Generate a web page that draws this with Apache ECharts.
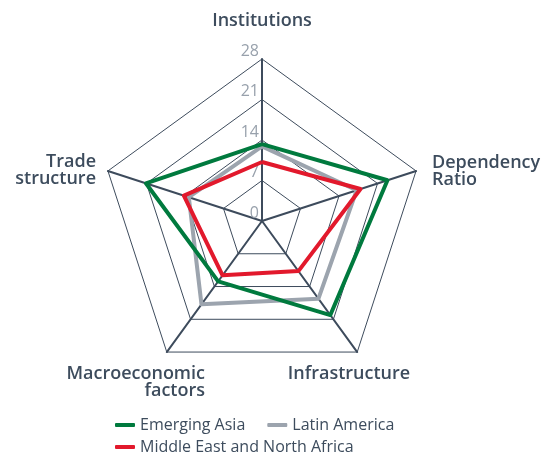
<!DOCTYPE html>
<html>
<head>
<meta charset="utf-8">
<script src="https://cdn.jsdelivr.net/npm/echarts@6/dist/echarts.min.js"></script>
<style>
	html, body { margin: 0; padding: 0; background: #fff; }
	#chart { width: 545px; height: 452px; }
</style>
</head>
<body>
<div id="chart"></div>
<script>
// indicators go round counter-clockwise from the top
var indicatorNames = ['Institutions', 'Trade structure', 'Macroeconomic factors', 'Infrastructure', 'Dependency Ratio'];
var axisMax = 28;
var tickStep = 7;

var seriesNames = ['Emerging Asia', 'Latin America', 'Middle East and North Africa'];
var emergingAsia = [13.3, 21.1, 12.9, 20.1, 22.8];
var latinAmerica = [12.9, 13.3, 17.8, 16.6, 17.2];
var menaRegion = [10.2, 14.2, 11.6, 10.7, 17.9];

var seriesColors = ['#007a3e', '#9ca4ae', '#e2192c'];
var textColor = '#3d4c5d';

var myChart = echarts.init(document.getElementById('chart'));

var center = [262, 221];
var radius = 162;

function nameText(text, x, y, align) {
	return {
		type: 'text',
		style: {
			text: text,
			x: x,
			y: y,
			align: align,
			verticalAlign: 'middle',
			font: '600 18px "Open Sans"',
			lineHeight: 17,
			fill: textColor
		}
	};
}

var legendText = { color: textColor, fontFamily: 'Open Sans', fontWeight: 500, fontSize: 16 };

var option = {
	animation: false,
	radar: {
		center: center,
		radius: radius,
		startAngle: 90,
		splitNumber: 4,
		shape: 'polygon',
		indicator: indicatorNames.map(function(n) {
			return { name: n, min: 0, max: axisMax };
		}),
		axisName: { show: false },
		axisLine: { lineStyle: { color: '#3d4b5c', width: 2 } },
		splitLine: { lineStyle: { color: '#3d4b5c', width: 1 } },
		splitArea: { show: false }
	},
	// polar only used for the 0-28 labels on the top axis
	polar: { center: center, radius: radius },
	angleAxis: { show: false, startAngle: 90, min: 0, max: 360 },
	radiusAxis: {
		min: 0,
		max: axisMax,
		interval: tickStep,
		axisLine: { show: false },
		axisTick: { show: false },
		splitLine: { show: false },
		axisLabel: {
			color: '#98a1ac',
			fontFamily: 'Open Sans',
			fontSize: 16,
			verticalAlign: 'bottom',
			margin: 3
		}
	},
	legend: [{
		data: [seriesNames[0], seriesNames[1]],
		left: 110,
		top: 412,
		itemWidth: 20,
		itemHeight: 4,
		itemGap: 22,
		icon: 'roundRect',
		textStyle: legendText
	}, {
		data: [seriesNames[2]],
		left: 110,
		top: 434,
		itemWidth: 20,
		itemHeight: 4,
		icon: 'roundRect',
		textStyle: legendText
	}],
	graphic: [
		nameText('Institutions', 262, 21, 'center'),
		nameText('Dependency\nRatio', 432, 171, 'left'),
		nameText('Trade\nstructure', 96, 170, 'right'),
		nameText('Macroeconomic\nfactors', 205, 382, 'right'),
		nameText('Infrastructure', 349, 374, 'center')
	],
	series: [{
		name: seriesNames[1],
		type: 'radar',
		symbol: 'none',
		lineStyle: { width: 4, color: seriesColors[1] },
		itemStyle: { color: seriesColors[1] },
		data: [{ value: latinAmerica, name: seriesNames[1] }]
	}, {
		name: seriesNames[0],
		type: 'radar',
		symbol: 'none',
		lineStyle: { width: 4, color: seriesColors[0] },
		itemStyle: { color: seriesColors[0] },
		data: [{ value: emergingAsia, name: seriesNames[0] }]
	}, {
		name: seriesNames[2],
		type: 'radar',
		symbol: 'none',
		lineStyle: { width: 4, color: seriesColors[2] },
		itemStyle: { color: seriesColors[2] },
		data: [{ value: menaRegion, name: seriesNames[2] }]
	}]
};
myChart.setOption(option);
</script>
</body>
</html>
